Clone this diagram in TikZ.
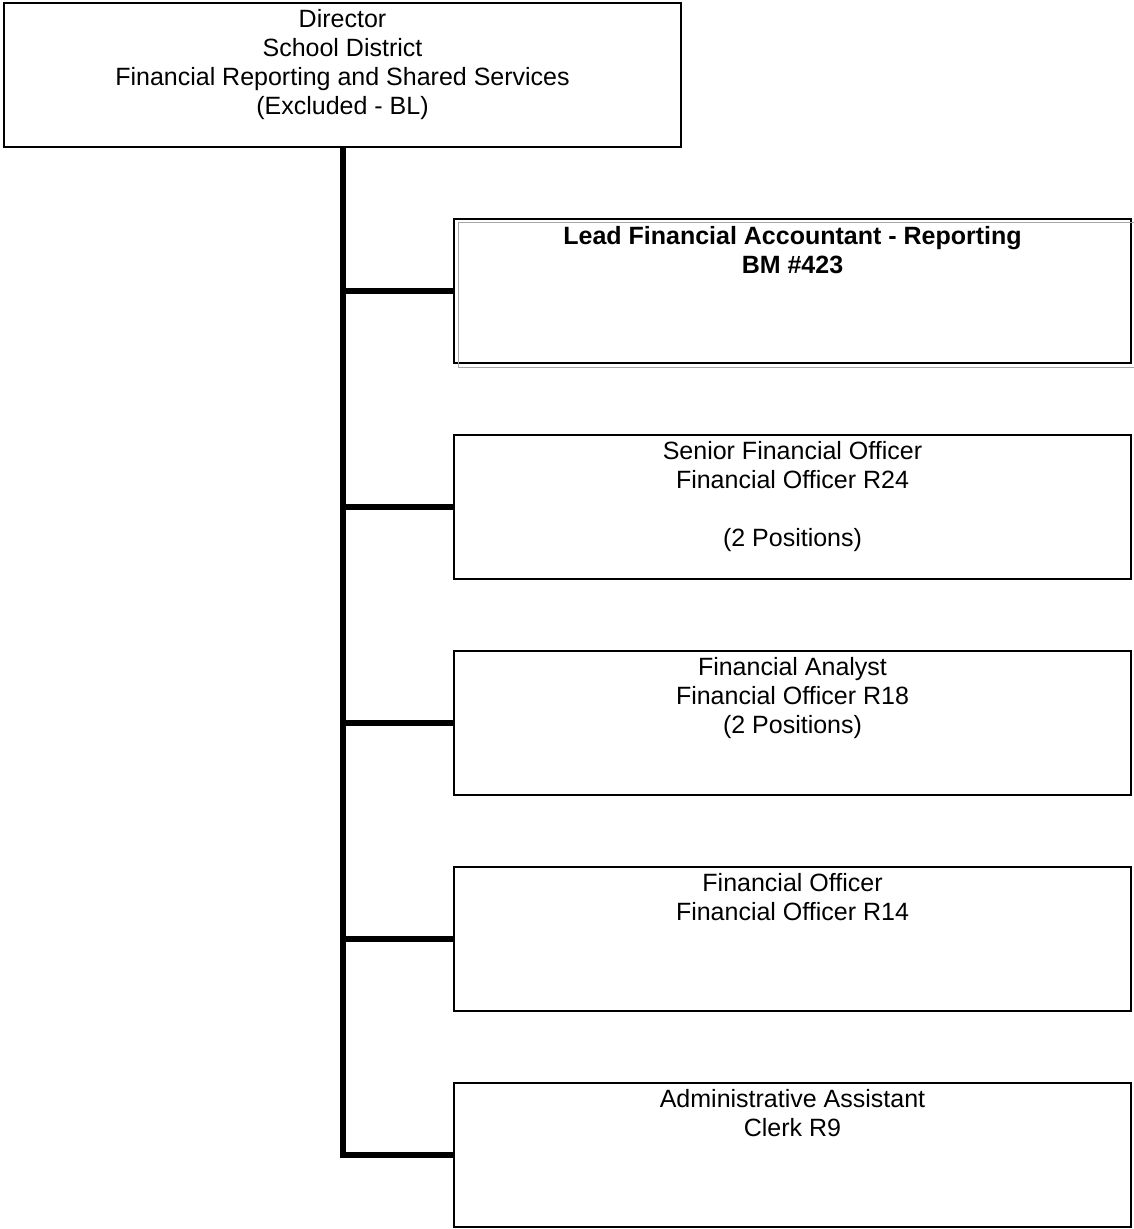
\documentclass[tikz,border=0pt]{standalone}
\usepackage{fontspec}
\setmainfont{Liberation Sans}
\usepackage{tikz}
\usetikzlibrary{positioning, calc}

\begin{document}
\begin{tikzpicture}[x=1pt, y=-1pt,
    posbox/.style={draw, line width=1.3pt, minimum width=677pt, minimum height=144pt, inner sep=0pt},
    postext/.style={anchor=north, align=center, inner sep=0pt, font=\fontsize{25}{29}\selectfont},
    trunk/.style={line width=6pt}]
  \useasboundingbox (0,0) rectangle (1134,1229);

  % boxes
  \node[posbox] (dir) at (342.5,75) {};
  \node[posbox] (lead) at (792.5,291) {};
  \draw[gray!70, line width=1.3pt] ($(lead.north west)+(5,4)$) rectangle ($(lead.south east)+(5,4)$);
  \node[posbox] (senior) at (792.5,507) {};
  \node[posbox] (analyst) at (792.5,723) {};
  \node[posbox] (officer) at (792.5,939) {};
  \node[posbox] (admin) at (792.5,1155) {};

  % texts
  \node[postext] (dirtxt) at ($(dir.north)+(0,7)$) {Director\\School District\\Financial Reporting and Shared Services\\(Excluded - BL)};
  \node[postext] (leadtxt) at ($(lead.north)+(0,8)$) {\bfseries Lead Financial Accountant - Reporting\\\bfseries BM \#423};
  \node[postext] (seniortxt) at ($(senior.north)+(0,7)$) {Senior Financial Officer\\Financial Officer R24\\[29pt](2 Positions)};
  \node[postext] (analysttxt) at ($(analyst.north)+(0,7)$) {Financial Analyst\\Financial Officer R18\\(2 Positions)};
  \node[postext] (officertxt) at ($(officer.north)+(0,7)$) {Financial Officer\\Financial Officer R14};
  \node[postext] (admintxt) at ($(admin.north)+(0,7)$) {Administrative Assistant\\Clerk R9};

  % reporting lines
  \draw[trunk] (dir.south) |- (admin.west);
  \foreach \b in {lead, senior, analyst, officer}
    \draw[trunk] (dir.south |- \b.west) -- (\b.west);
\end{tikzpicture}
\end{document}
